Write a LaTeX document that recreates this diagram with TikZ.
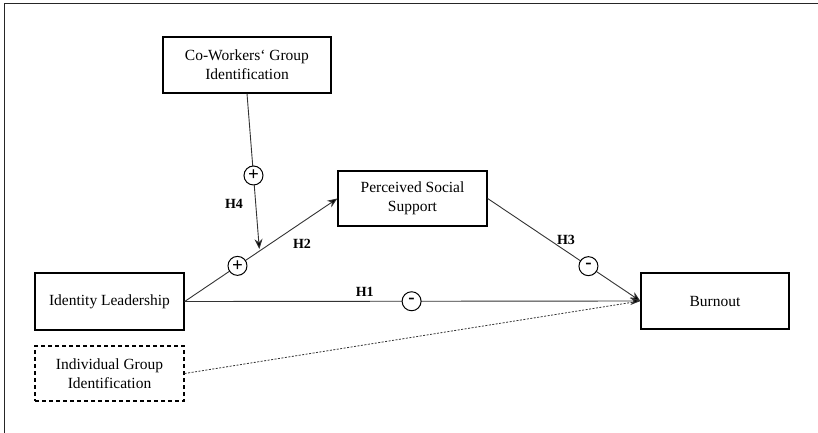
\documentclass[tikz,border=0pt]{standalone}
\usepackage{fontspec}
\setmainfont{Liberation Serif}
\usetikzlibrary{arrows.meta,calc}
\begin{document}
\begin{tikzpicture}[x=1pt,y=-1pt,
  box/.style={draw=black,line width=1.3pt,align=center,inner sep=0pt,
    font=\fontsize{15.5}{18.7}\selectfont},
  dbox/.style={box,dashed,dash pattern=on 4pt off 3pt},
  conn/.style={draw=black!80,line width=0.9pt},
  arr/.style={conn,-{Stealth[length=10pt,width=8pt,fill=black]}},
  sign/.style={draw=black,fill=white,circle,line width=1pt,minimum size=19pt,
    inner sep=0pt,font=\fontsize{19}{19}\selectfont\bfseries},
  hlab/.style={font=\fontsize{14}{14}\selectfont\bfseries,inner sep=0pt}]
\useasboundingbox (0,0) rectangle (818,433);
\draw[line width=1.5pt,black!85] (4.5,433) -- (4.5,3.5) -- (818,3.5);
\node[box,minimum width=168pt,minimum height=56pt] (cw) at (247,65) {Co-Workers‘ Group\\Identification};
\node[box,minimum width=149pt,minimum height=55pt] (pss) at (412.5,198.5) {Perceived Social\\Support};
\node[box,minimum width=149pt,minimum height=57pt] (il) at (109.5,301.5) {Identity Leadership};
\node[dbox,minimum width=149pt,minimum height=55pt] (igi) at (109.5,373.5) {Individual Group\\Identification};
\node[box,minimum width=148pt,minimum height=56pt] (bo) at (715,301) {Burnout};
\coordinate (mod) at ($(il.east)!0.49!(pss.west)$);
\draw[conn,dash pattern=on 2pt off 1.5pt,line width=0.8pt] (igi.east) -- (bo.west);
\draw[arr] (il.east) -- node[sign,pos=0.346] (s2) {+} (pss.west);
\draw[arr] (il.east) -- node[sign,pos=0.498] (s1) {-} (bo.west);
\draw[arr] (pss.east) -- node[sign,pos=0.66] (s3) {-} (bo.west);
\draw[arr,shorten >=2pt] (cw.south) -- node[sign,pos=0.52] (s4) {+} (mod);
\node[hlab] (h4) at (234,204) {H4};
\node[hlab] (h2) at (302,243.5) {H2};
\node[hlab] (h1) at (364.7,292) {H1};
\node[hlab] (h3) at (566,240) {H3};
\end{tikzpicture}
\end{document}
